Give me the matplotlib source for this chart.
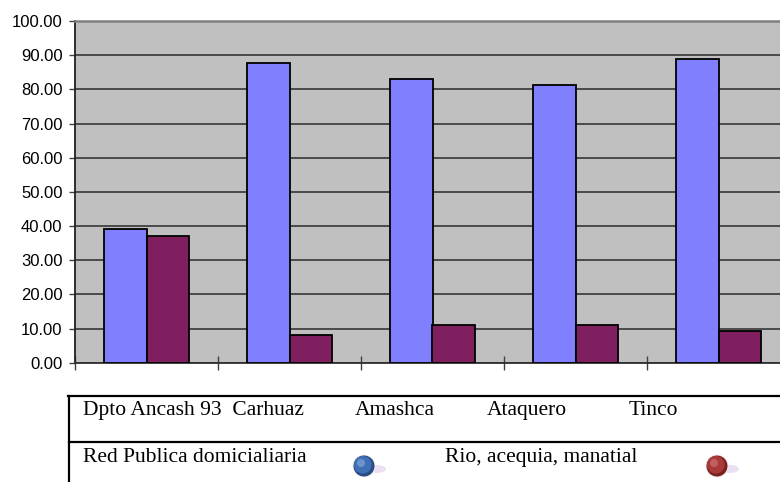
import numpy as np
import matplotlib
matplotlib.use('Agg')
import matplotlib.pyplot as plt
from matplotlib.patches import Circle, Ellipse
from matplotlib.lines import Line2D

# ---- data ----
categories = ['Dpto Ancash 93', 'Carhuaz', 'Amashca', 'Ataquero', 'Tinco']
red_publica = [39.2, 87.8, 83.1, 81.3, 88.9]
rio_acequia = [37.0, 8.2, 11.1, 11.1, 9.4]
series_names = ['Red Publica domicialiaria', 'Rio, acequia, manatial']
y_ticks = np.arange(0, 101, 10)

fig = plt.figure(figsize=(7.8, 4.82), dpi=100)
fig.patch.set_facecolor('white')

# plot area runs past the right edge of the picture, like the original
ax = fig.add_axes([75 / 780, (482 - 362.7) / 482, 715 / 780, 341.7 / 482])
ax.set_facecolor('#C0C0C0')

x = np.arange(len(categories))
w = 0.294
ax.bar(x - w / 2, red_publica, w, color='#8080FF', edgecolor='black', linewidth=1.3, zorder=3)
ax.bar(x + w / 2, rio_acequia, w, color='#7F1F5F', edgecolor='black', linewidth=1.3, zorder=3)

ax.set_xlim(-0.5, len(categories) - 0.5)
ax.set_ylim(0, 100)
ax.set_yticks(y_ticks)
ax.set_yticklabels(['%.2f' % v for v in y_ticks], fontsize=12, family='Liberation Sans')
ax.yaxis.grid(True, color='#4A4A4A', linewidth=1.4, zorder=1)
ax.set_axisbelow(True)

# category separators on the x axis
ax.set_xticks(np.arange(len(categories)) - 0.5)
ax.set_xticklabels([])
ax.tick_params(axis='x', direction='inout', length=10, width=1, color='#404040')
ax.tick_params(axis='y', direction='out', length=4, width=1, color='#404040', pad=5)

ax.spines['left'].set_color('#202020')
ax.spines['left'].set_linewidth(1.3)
ax.spines['bottom'].set_color('#303030')
ax.spines['bottom'].set_linewidth(1.3)
ax.spines['top'].set_color('#808080')
ax.spines['top'].set_linewidth(1.8)
ax.spines['right'].set_color('#808080')

# ---- table-like legend below, drawn in pixel coordinates ----
ov = fig.add_axes([0, 0, 1, 1], facecolor='none')
ov.set_xlim(0, 780)
ov.set_ylim(482, 0)
ov.axis('off')

ov.add_line(Line2D([69, 69], [395.5, 482], color='black', linewidth=1.6))
ov.add_line(Line2D([68.4, 780], [395.5, 395.5], color='black', linewidth=1.6))
ov.add_line(Line2D([69, 780], [441.5, 441.5], color='black', linewidth=1.6))

serif = 'Liberation Serif'
row1 = ['Dpto Ancash 93  Carhuaz', 'Amashca', 'Ataquero', 'Tinco']
row1_x = [83, 355, 487, 629]
for t, xx in zip(row1, row1_x):
    ov.text(xx, 415, t, fontsize=15.5, family=serif, va='baseline', ha='left')

ov.text(83, 462, series_names[0], fontsize=15.5, family=serif, va='baseline', ha='left')
ov.text(445, 462, series_names[1], fontsize=15.5, family=serif, va='baseline', ha='left')

def ball(cx, cy, base, light, dark):
    ov.add_patch(Ellipse((cx + 13, cy + 3), 18, 8, facecolor='#E6D8EE', edgecolor='none', alpha=0.8))
    ov.add_patch(Circle((cx, cy), 11.5, facecolor='#F0F0F0', edgecolor='none'))
    ov.add_patch(Circle((cx, cy), 10.5, facecolor=dark, edgecolor='none'))
    ov.add_patch(Circle((cx - 1.2, cy - 1.2), 8.8, facecolor=base, edgecolor='none'))
    ov.add_patch(Circle((cx - 3, cy - 3), 4, facecolor=light, edgecolor='none', alpha=0.7))

ball(364, 466, '#3F6FB5', '#7FA3D8', '#284C85')
ball(717, 466, '#A83A3A', '#D07070', '#7A2020')

fig.savefig('out.png', dpi=100)
